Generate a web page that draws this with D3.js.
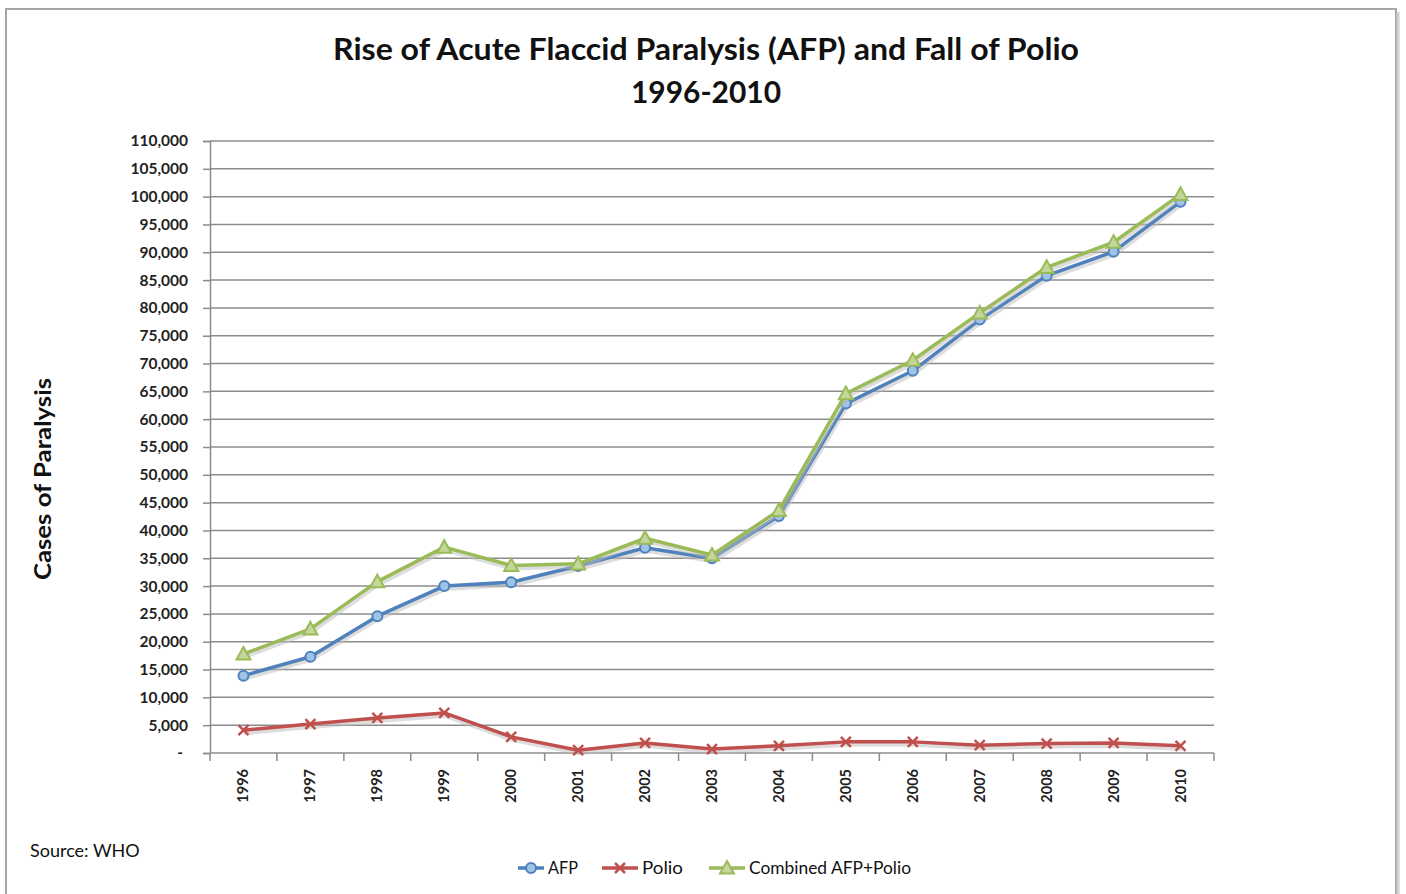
<!DOCTYPE html>
<html><head><meta charset="utf-8">
<script src="https://cdn.jsdelivr.net/npm/d3@7"></script>
<style>
html,body{margin:0;padding:0;background:#fff;}
svg{display:block;font-family:Lato,"Open Sans",sans-serif;}
</style></head>
<body>
<svg id="chart" width="1406" height="894"></svg>
<script>
const years = ["1996","1997","1998","1999","2000","2001","2002","2003","2004","2005","2006","2007","2008","2009","2010"];
const afp      = [13900,17300,24600,30000,30700,33600,36900,35000,42600,62800,68700,77900,85800,90100,99100];
const polio    = [4100,5200,6300,7200,2900,500,1800,700,1300,2000,2000,1400,1700,1800,1300];
const combined = [17800,22300,30800,37000,33700,34000,38600,35600,43600,64600,70600,79100,87300,91800,100400];
const yTicks = d3.range(0,110001,5000);
const seriesNames = ["AFP","Polio","Combined AFP+Polio"];
const seriesColors = ["#4f81bd","#c0504d","#9bbb59"];

(function(){
const svg = d3.select("#chart");
// frame
svg.append("rect").attr("x",6).attr("y",9).attr("width",1390).attr("height",890)
  .attr("fill","#fff").attr("stroke","#a6a6a6").attr("stroke-width",2);
svg.append("line").attr("x1",1398).attr("x2",1398).attr("y1",12).attr("y2",894).attr("stroke","#d0d0d0").attr("stroke-width",3);

// title
svg.append("text").attr("x",706).attr("y",60).attr("text-anchor","middle")
  .attr("font-size",31).attr("font-weight","bold").attr("fill","#111")
  .attr("textLength",746).attr("lengthAdjust","spacingAndGlyphs")
  .text("Rise of Acute Flaccid Paralysis (AFP) and Fall of Polio");
svg.append("text").attr("x",706).attr("y",103).attr("text-anchor","middle")
  .attr("font-size",31).attr("font-weight","bold").attr("fill","#111")
  .attr("textLength",150).attr("lengthAdjust","spacingAndGlyphs")
  .text("1996-2010");

const pLeft=210, pRight=1214, pTop=141, pBottom=753;
const x = d3.scaleBand().domain(years).range([pLeft,pRight]);
const y = d3.scaleLinear().domain([0,110000]).range([pBottom,pTop]);
const cx = d => x(d)+x.bandwidth()/2;

// gridlines
svg.append("g").selectAll("line").data(yTicks.filter(t=>t>0)).join("line")
  .attr("x1",pLeft).attr("x2",pRight).attr("y1",d=>y(d)).attr("y2",d=>y(d))
  .attr("stroke","#8c8c8c").attr("stroke-width",1.5);

// y axis
const yAxis = d3.axisLeft(y).tickValues(yTicks).tickSize(7).tickPadding(15)
  .tickFormat(d => d===0 ? "-" : d3.format(",")(d));
const gy = svg.append("g").attr("transform",`translate(${pLeft},0)`).call(yAxis);
gy.select(".domain").attr("stroke","#8c8c8c").attr("stroke-width",1.5);
gy.selectAll(".tick line").attr("stroke","#8c8c8c").attr("stroke-width",1.5);
gy.selectAll("text").attr("font-size",15.5).attr("font-weight","bold").attr("fill","#222")
  .attr("font-family","Lato, sans-serif").attr("dx", d => d===0 ? -5 : 0);

// x axis
const gx = svg.append("g").attr("transform",`translate(0,${pBottom})`);
gx.append("line").attr("x1",pLeft).attr("x2",pRight).attr("stroke","#8c8c8c").attr("stroke-width",1.5);
const bounds = years.map(d=>x(d)).concat([pRight]);
gx.selectAll("line.tk").data(bounds).join("line").attr("class","tk")
  .attr("x1",d=>d).attr("x2",d=>d).attr("y1",0).attr("y2",8)
  .attr("stroke","#8c8c8c").attr("stroke-width",1.5);
gx.selectAll("text").data(years).join("text")
  .attr("transform",d=>`translate(${cx(d)+5},16) rotate(-90)`)
  .attr("text-anchor","end").attr("font-size",14.5).attr("font-weight","bold").attr("fill","#222")
  .text(d=>d);

// y title
svg.append("text").attr("transform","translate(51,479) rotate(-90)").attr("text-anchor","middle")
  .attr("font-size",23).attr("font-weight","bold").attr("fill","#111")
  .attr("textLength",202).attr("lengthAdjust","spacingAndGlyphs").text("Cases of Paralysis");

// source
svg.append("text").attr("x",30).attr("y",857).attr("font-size",18).attr("fill","#111").text("Source: WHO");

const data = [afp, polio, combined];
const line = d3.line().x((d,i)=>cx(years[i])).y(d=>y(d));

function marker(g, type, color, px, py){
  if(type===0){
    g.append("circle").attr("cx",px).attr("cy",py).attr("r",5)
      .attr("fill","#9dc3e6").attr("stroke",color).attr("stroke-width",2);
  } else if(type===1){
    const s=5;
    g.append("path").attr("d",`M${px-s},${py-s}L${px+s},${py+s}M${px-s},${py+s}L${px+s},${py-s}`)
      .attr("stroke",color).attr("stroke-width",2.5);
  } else {
    const s=7;
    g.append("path").attr("d",`M${px},${py-s}L${px+s},${py+s*0.8}L${px-s},${py+s*0.8}Z`)
      .attr("fill","#c3d69b").attr("stroke",color).attr("stroke-width",2);
  }
}

data.forEach((vals,k)=>{
  const g = svg.append("g");
  g.append("path").datum(vals).attr("d",line).attr("fill","none")
    .attr("stroke","#bbb").attr("stroke-opacity",0.5).attr("stroke-width",4)
    .attr("transform","translate(1,3)");
  g.append("path").datum(vals).attr("d",line).attr("fill","none")
    .attr("stroke",seriesColors[k]).attr("stroke-width",3.5).attr("stroke-linejoin","round");
  vals.forEach((v,i)=>marker(g,k,seriesColors[k],cx(years[i]),y(v)));
});

// legend
const legendX = [518,602,709];
const legendW = [30,41,162];
const lg = svg.append("g");
seriesNames.forEach((n,k)=>{
  const lx = legendX[k], ly = 868;
  const w = k===0 ? 26 : 36;
  lg.append("line").attr("x1",lx).attr("x2",lx+w).attr("y1",ly).attr("y2",ly)
    .attr("stroke",seriesColors[k]).attr("stroke-width",3.5);
  marker(lg,k,seriesColors[k],lx+w/2,ly);
  lg.append("text").attr("x",lx+w+4).attr("y",ly+6).attr("font-size",17).attr("fill","#111")
    .attr("textLength",legendW[k]).attr("lengthAdjust","spacingAndGlyphs").text(n);
});
})();
</script>
</body></html>
